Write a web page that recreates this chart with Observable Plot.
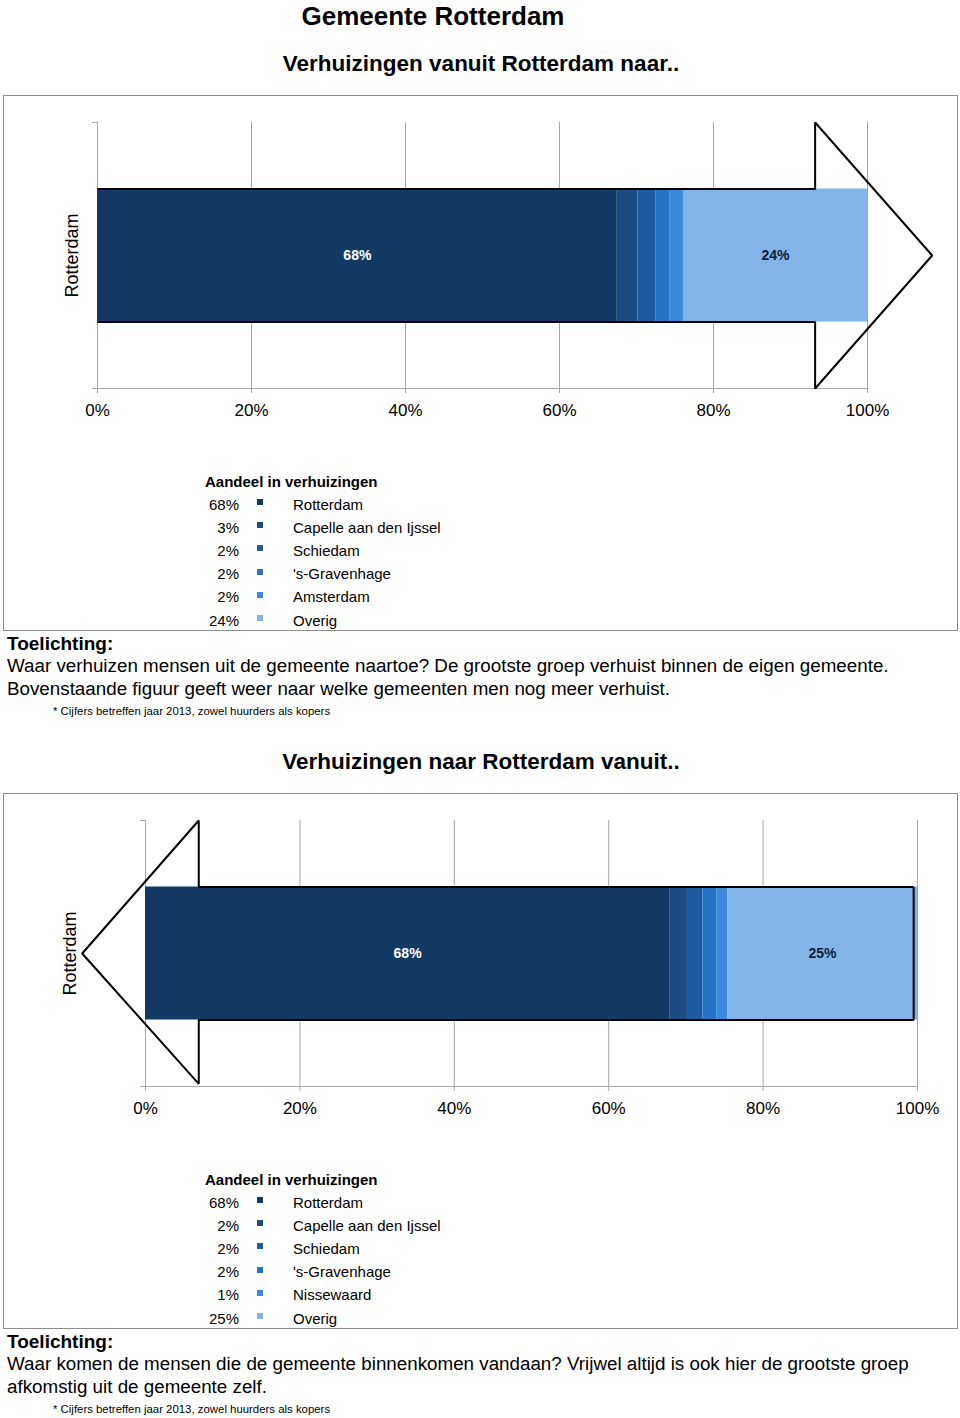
<!DOCTYPE html>
<html><head><meta charset="utf-8">
<script src="https://cdn.jsdelivr.net/npm/d3@7"></script>
<script src="https://cdn.jsdelivr.net/npm/@observablehq/plot@0.6"></script>
<style>
body{margin:0;background:#fff;font-family:"Liberation Sans",Arial,sans-serif;color:#000}
#page{position:relative;width:960px;height:1418px;overflow:hidden}
.abs{position:absolute;white-space:nowrap;line-height:1}
.frame{position:absolute;left:3px;width:955px;border:1.5px solid #8c8c8c;box-sizing:border-box}
.plotbox{position:absolute;left:0}
.plotbox svg{overflow:visible}
</style></head><body><div id="page"></div>
<script>
// ---- data ----
const pageTitle = "Gemeente Rotterdam";
const title1 = "Verhuizingen vanuit Rotterdam naar..";
const title2 = "Verhuizingen naar Rotterdam vanuit..";
const axisLabel = "Rotterdam";
const legendTitle = "Aandeel in verhuizingen";

const names1 = ["Rotterdam", "Capelle aan den Ijssel", "Schiedam", "'s-Gravenhage", "Amsterdam", "Overig"];
const shares1 = [67.5, 2.7, 2.3, 1.8, 1.8, 23.9];

const names2 = ["Rotterdam", "Capelle aan den Ijssel", "Schiedam", "'s-Gravenhage", "Nissewaard", "Overig"];
const shares2 = [67.9, 2.3, 2.0, 1.8, 1.4, 24.6];

const segColors = ["#133a64", "#1b4b82", "#1f5c9f", "#2672c6", "#3b89dd", "#83b4e7"];
const xTicks = [0, 20, 40, 60, 80, 100];

// arrow outlines in data units (x in %, y from -1 to 1)
const arrowOut = [[0, 0.5], [93.2, 0.5], [93.2, 1], [108.4, 0], [93.2, -1], [93.2, -0.5], [0, -0.5]];
const arrowIn = [[99.5, 0.5], [6.9, 0.5], [6.9, 1], [-8.2, 0], [6.9, -0.98], [6.9, -0.5], [99.5, -0.5], [99.5, 0.5]];

const note1 = ["Waar verhuizen mensen uit de gemeente naartoe? De grootste groep verhuist binnen de eigen gemeente.",
               "Bovenstaande figuur geeft weer naar welke gemeenten men nog meer verhuist."];
const note2 = ["Waar komen de mensen die de gemeente binnenkomen vandaan? Vrijwel altijd is ook hier de grootste groep",
               "afkomstig uit de gemeente zelf."];
const footnote = "* Cijfers betreffen jaar 2013, zowel huurders als kopers";
const noteHead = "Toelichting:";

// ---- layout helpers ----
const page = document.getElementById("page");
function txt(s, {left, center, size, bold = false, anchor = "left", color = "#000"}) {
  const d = document.createElement("div");
  d.className = "abs";
  d.textContent = s;
  d.style.fontSize = size + "px";
  d.style.top = (center - 0.49 * size) + "px";
  d.style.color = color;
  if (bold) d.style.fontWeight = "bold";
  if (anchor === "middle") { d.style.left = left + "px"; d.style.transform = "translateX(-50%)"; }
  else if (anchor === "right") { d.style.right = (960 - left) + "px"; }
  else d.style.left = left + "px";
  page.appendChild(d);
  return d;
}

function chart(names, shares, arrow, marginLeft, marginRight, labelDx) {
  const rows = names.map((n, i) => ({name: n, share: shares[i], color: segColors[i]}));
  let acc = 0;
  rows.forEach(r => { r.x1 = acc; acc += r.share; r.x2 = acc; r.mid = (r.x1 + r.x2) / 2; });
  const grid = "#a6a6a6";
  return Plot.plot({
    width: 960, height: 345,
    marginTop: 27, marginBottom: 52, marginLeft, marginRight,
    style: {background: "transparent", fontFamily: "Liberation Sans, Arial, sans-serif", overflow: "visible"},
    x: {domain: [0, 100]},
    y: {domain: [-1, 1]},
    color: {type: "identity"},
    marks: [
      Plot.ruleX(xTicks, {y1: -1, y2: 1, stroke: grid}),
      Plot.ruleY([-1], {x1: 0, x2: 100, stroke: grid}),
      Plot.axisX({ticks: xTicks, tickSize: 5, tickPadding: 10, tickFormat: d => d + "%", fontSize: 17, stroke: grid, fill: "#000", label: null}),
      Plot.axisY({ticks: [-1, 1], tickSize: 5, tickFormat: () => "", stroke: grid, label: null}),
      Plot.rect(rows, {x1: "x1", x2: "x2", y1: -0.5, y2: 0.5, fill: "color"}),
      Plot.line(arrow, {x: d => d[0], y: d => d[1], stroke: "#000", strokeWidth: 2, strokeLinejoin: "miter", strokeLinecap: "butt"}),
      Plot.text([rows[0]], {x: "mid", y: 0, text: d => Math.round(d.share) + "%", fill: "#ffffff", fontWeight: "bold", fontSize: 14}),
      Plot.text([rows[rows.length - 1]], {x: "mid", y: 0, text: d => Math.round(d.share) + "%", fill: "#0d1f3c", fontWeight: "bold", fontSize: 14}),
      Plot.text([axisLabel], {frameAnchor: "left", textAnchor: "middle", y: 0, dx: labelDx, rotate: -90, fontSize: 18, fill: "#000"})
    ]
  });
}

function panel(off, title, names, shares, arrow, mL, mR, labelDx, notes) {
  txt(title, {left: 481, center: 64 + off, size: 22.5, bold: true, anchor: "middle"});
  const fr = document.createElement("div");
  fr.className = "frame";
  fr.style.top = (95 + off) + "px";
  fr.style.height = (536) + "px";
  page.appendChild(fr);
  const box = document.createElement("div");
  box.className = "plotbox";
  box.style.top = (95 + off) + "px";
  box.appendChild(chart(names, shares, arrow, mL, mR, labelDx));
  page.appendChild(box);
  // legend
  txt(legendTitle, {left: 205, center: 481 + off, size: 15, bold: true});
  names.forEach((n, i) => {
    const c = 504 + off + i * 23.2;
    txt(Math.round(shares[i]) + "%", {left: 239, center: c, size: 15, anchor: "right"});
    const sq = document.createElement("div");
    sq.style.cssText = `position:absolute;left:257px;top:${c - 5}px;width:6px;height:6px;background:${segColors[i]}`;
    page.appendChild(sq);
    txt(n, {left: 293, center: c, size: 15});
  });
  txt(noteHead, {left: 7, center: 643 + off, size: 19, bold: true});
  notes.forEach((s, i) => txt(s, {left: 7, center: 666 + off + i * 23, size: 18.8}));
  txt(footnote, {left: 53, center: 712 + off, size: 11.4});
}

txt(pageTitle, {left: 433, center: 15.5, size: 26, bold: true, anchor: "middle"});
panel(0, title1, names1, shares1, arrowOut, 97, 93, -25, note1);
panel(698, title2, names2, shares2, arrowIn, 145, 43, -75, note2);
</script></body></html>
